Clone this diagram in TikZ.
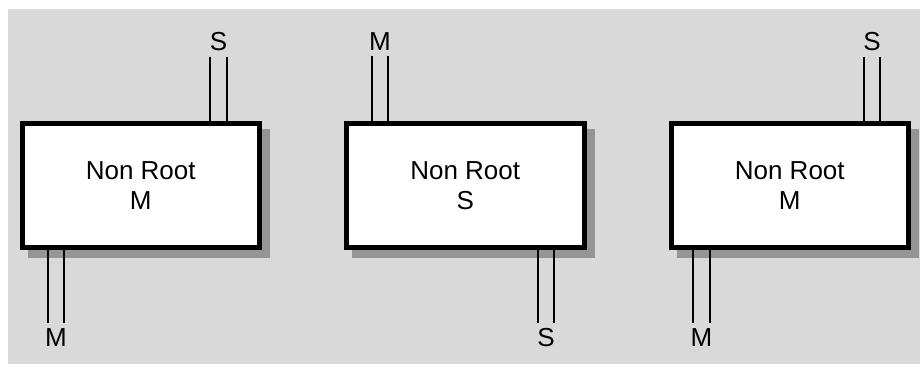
\documentclass[tikz,border=0pt]{standalone}
\usepackage{fontspec}
\setmainfont{Liberation Sans}
\usepackage{tikz}
\usetikzlibrary{positioning,backgrounds}
\definecolor{bggray}{RGB}{217,217,217}
\definecolor{shadowgray}{RGB}{149,149,149}

\begin{document}
\begin{tikzpicture}[x=1pt, y=1pt, node distance=82pt]
\tikzstyle{block} = [rectangle, draw=black, fill=white, line width=5pt, minimum width=237.5pt, minimum height=124pt, align=center, font=\fontsize{26}{30.6}\selectfont]
\tikzstyle{tag} = [inner sep=0pt, outer sep=6pt, font=\fontsize{26}{30.6}\selectfont]
\tikzstyle{wire} = [line width=2pt]

\useasboundingbox (0,0) rectangle (920,364);

\node [block] (b1) at (140.75,178.5) {Non Root\\M};
\node [block, right=of b1] (b2) {Non Root\\S};
\node [block, right=of b2] (b3) {Non Root\\M};

\node [tag] (s1) at (218.5,322.5) {S};
\node [tag] (m1) at (56,26) {M};
\node [tag] (m2) at (380,322.5) {M};
\node [tag] (s2) at (546,26) {S};
\node [tag] (s3) at (872,322.5) {S};
\node [tag] (m3) at (701.5,26) {M};

\foreach \d in {-8.25,8.25} {
  \draw [wire] ([xshift=\d pt]s1.south) -- ([xshift=\d pt]s1.south |- b1.north);
  \draw [wire] ([xshift=\d pt]m1.north) -- ([xshift=\d pt]m1.north |- b1.south);
  \draw [wire] ([xshift=\d pt]m2.south) -- ([xshift=\d pt]m2.south |- b2.north);
  \draw [wire] ([xshift=\d pt]s2.north) -- ([xshift=\d pt]s2.north |- b2.south);
  \draw [wire] ([xshift=\d pt]s3.south) -- ([xshift=\d pt]s3.south |- b3.north);
  \draw [wire] ([xshift=\d pt]m3.north) -- ([xshift=\d pt]m3.north |- b3.south);
}

\begin{scope}[on background layer]
\fill [bggray] (8,0) rectangle (920,355);
\foreach \b in {b1,b2,b3}
  \fill [shadowgray] ([shift={(8,-8)}]\b.north west) rectangle ([shift={(8,-8)}]\b.south east);
\end{scope}

\end{tikzpicture}
\end{document}
